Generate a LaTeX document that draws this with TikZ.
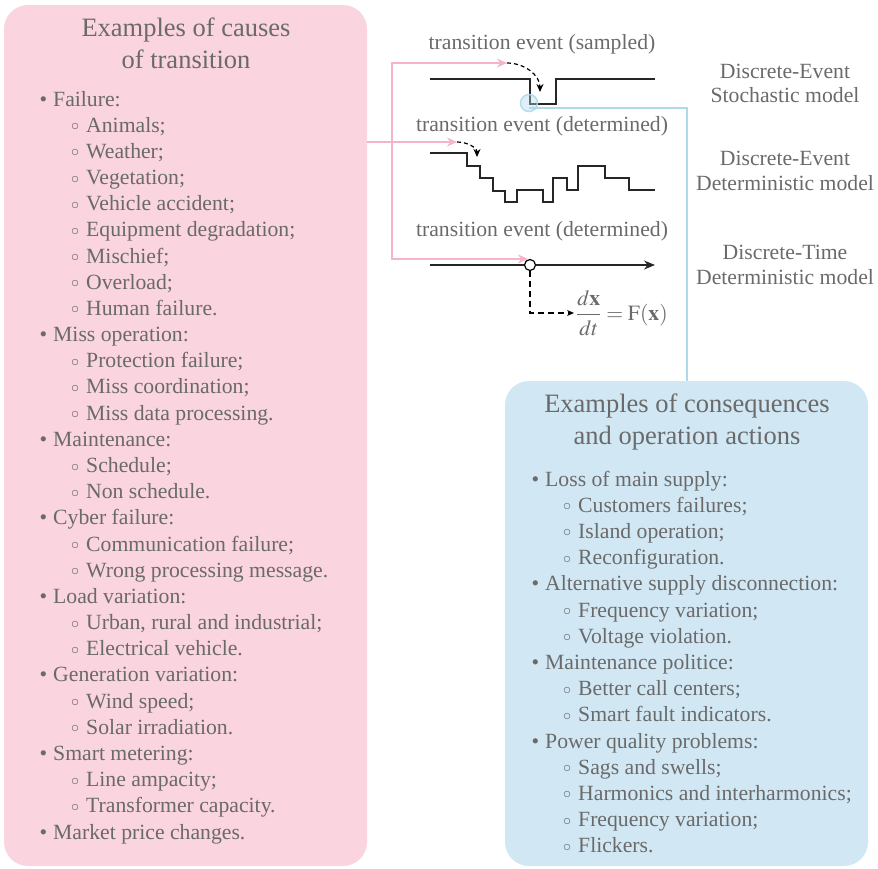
\documentclass[tikz,border=0pt]{standalone}
\usepackage{mathptmx}
\usepackage{fontspec}
\setmainfont{Liberation Serif}
\usetikzlibrary{arrows.meta}

\definecolor{pinkfill}{HTML}{FAD4DF}
\definecolor{pinkline}{HTML}{F5B5C7}
\definecolor{bluefill}{HTML}{D1E8F4}
\definecolor{blueline}{HTML}{AEDAEC}
\definecolor{txtgray}{HTML}{6A6A6A}

\begin{document}
\begin{tikzpicture}[x=1pt,y=-1pt,
  txt/.style={text=txtgray, inner sep=0pt, font=\fontsize{21.7}{26}\selectfont},
  title/.style={txt, anchor=base, font=\fontsize{26.5}{32}\selectfont},
  lbl/.style={txt, anchor=base},
  lst/.style={txt, anchor=base west},
  item m/.style={execute at begin node={\llap{\textbullet\hspace{6pt}}}},
  item s/.style={xshift=33pt, execute at begin node={\llap{\raisebox{1.5pt}{$\scriptstyle\circ$}\hspace{7pt}}}},
  panel/.style={rounded corners=24pt, inner sep=0pt, minimum width=363pt},
  pinkarr/.style={draw=pinkline, line width=2pt, -{Stealth[length=10pt,width=9pt]}},
  bluecon/.style={draw=blueline, line width=2pt},
  sig/.style={draw=black!85, line width=1.4pt},
  dashcurve/.style={draw=black, line width=1.2pt, dash pattern=on 4pt off 3pt,
                    -{Stealth[length=8pt,width=7pt]}},
]
\useasboundingbox (0,0) rectangle (878,868);

% panels
\node[panel, fill=pinkfill, minimum height=861pt] (cbox) at (185.5,435.5) {};
\node[panel, fill=bluefill, minimum height=485pt] (kbox) at (686.5,623.5) {};

% causes
\node[title] (pt1) at (186,36) {Examples of causes};
\node[title] (pt2) at (186,68) {of transition};
\foreach \k/\t [count=\i] in {
  {m/Failure:}, {s/Animals;}, {s/Weather;}, {s/Vegetation;}, {s/Vehicle accident;},
  {s/Equipment degradation;}, {s/Mischief;}, {s/Overload;}, {s/Human failure.},
  {m/Miss operation:}, {s/Protection failure;}, {s/Miss coordination;},
  {s/Miss data processing.}, {m/Maintenance:}, {s/Schedule;}, {s/Non schedule.},
  {m/Cyber failure:}, {s/Communication failure;}, {s/Wrong processing message.},
  {m/Load variation:}, {s/Urban, rural and industrial;}, {s/Electrical vehicle.},
  {m/Generation variation:}, {s/Wind speed;}, {s/Solar irradiation.},
  {m/Smart metering:}, {s/Line ampacity;}, {s/Transformer capacity.},
  {m/Market price changes.}}
  {\node[lst, item \k] (pc\i) at (53,{106+(\i-1)*26.18}) {\t};}

% consequences
\node[title] (bt1) at (687,412) {Examples of consequences};
\node[title] (bt2) at (687,444) {and operation actions};
\foreach \k/\t [count=\i] in {
  {m/Loss of main supply:}, {s/Customers failures;}, {s/Island operation;},
  {s/Reconfiguration.}, {m/Alternative supply disconnection:},
  {s/Frequency variation;}, {s/Voltage violation.}, {m/Maintenance politice:},
  {s/Better call centers;}, {s/Smart fault indicators.},
  {m/Power quality problems:}, {s/Sags and swells;},
  {s/Harmonics and interharmonics;}, {s/Frequency variation;}, {s/Flickers.}}
  {\node[lst, item \k] (kc\i) at (545,{486+(\i-1)*26.2}) {\t};}

% model names
\node[lbl] (m1a) at (785,78) {Discrete-Event};
\node[lbl] (m1b) at (785,102) {Stochastic model};
\node[lbl] (m2a) at (785,165) {Discrete-Event};
\node[lbl] (m2b) at (785,190) {Deterministic model};
\node[lbl] (m3a) at (785,259) {Discrete-Time};
\node[lbl] (m3b) at (785,284) {Deterministic model};

% event labels
\node[lbl] (e1) at (542,49) {transition event (sampled)};
\node[lbl] (e2) at (542,131) {transition event (determined)};
\node[lbl] (e3) at (542,236) {transition event (determined)};

% arrow targets and junctions
\coordinate (t1) at (507,63);
\coordinate (t2) at (457,142);
\coordinate (t3) at (528,259);
\coordinate (jb) at (392,259);
\coordinate (d1) at (540,92);
\coordinate (d2) at (477,157);

% pink connectors
\draw[pinkarr] (cbox.east |- t2) -- (t2);
\draw[pinkarr, {Stealth[length=10pt,width=9pt]}-{Stealth[length=10pt,width=9pt]}] (t1) -| (jb) -- (t3);

% stochastic waveform
\draw[sig] (430,79) -- (530,79) -- (530,104) -- (556,104) -- (556,79) -- (655,79);
\draw[dashcurve] (t1) to[out=0,in=90] (d1);

% deterministic waveform
\draw[sig] (430,153) -| (467,166) -| (480,178) -| (493,191) -| (505,202) -| (517,190)
  -| (543,202) -| (553,178) -| (567,190) -| (578,166) -| (605,178) -| (629,190) -- (655,190);
\draw[dashcurve] (t2) to[out=0,in=90] (d2);

% sampled event marker and link to consequences
\coordinate (ev1c) at (529,103);
\draw[bluecon] ([yshift=-5pt]ev1c) -| (kbox.north);
\node[circle, draw=blueline, fill=blueline, fill opacity=0.4, draw opacity=0.9,
      line width=1.5pt, minimum size=17pt, inner sep=0pt] (ev1) at (ev1c) {};

% discrete-time axis
\draw[sig, -{Stealth[length=11pt,width=9pt]}] (430,265) -- (655,265);
\node[circle, draw=black, fill=white, line width=1.2pt, minimum size=11pt, inner sep=0pt] (ev3) at (530,265) {};
\node[txt, anchor=west, inner sep=2pt] (fml) at (574,313)
  {$\displaystyle\frac{d\mathbf{x}}{dt}=\mathrm{F}(\mathbf{x})$};
\draw[draw=black, line width=1.2pt, dash pattern=on 6pt off 4pt,
      -{Stealth[length=7pt,width=6pt]}] (ev3.south) |- (fml.west);
\end{tikzpicture}
\end{document}
